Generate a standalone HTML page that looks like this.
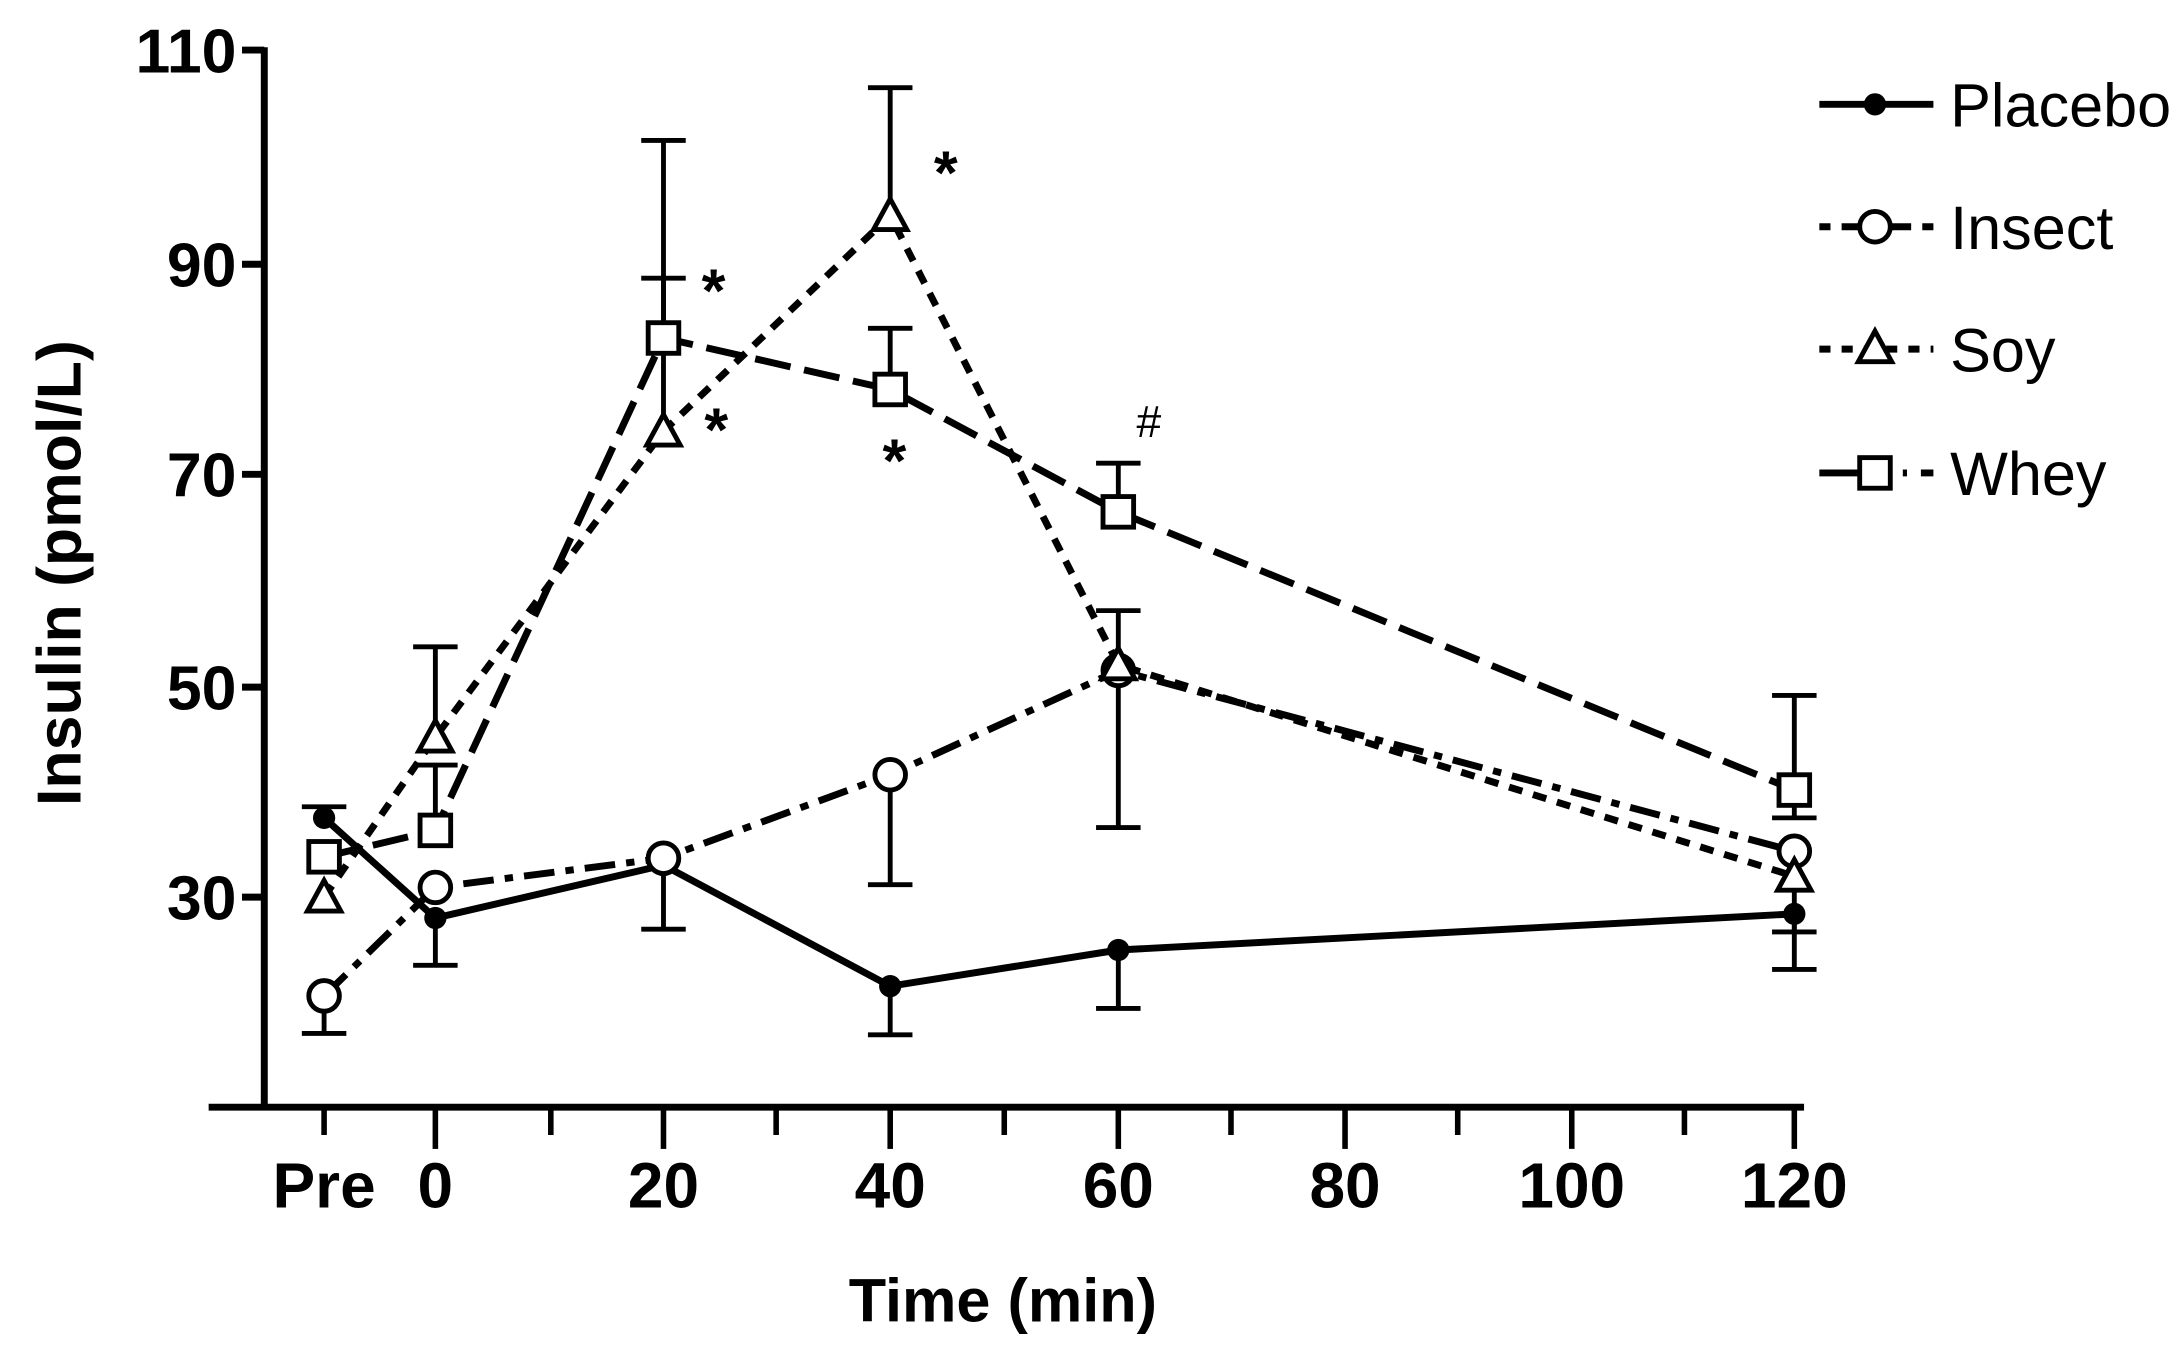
<!DOCTYPE html>
<html><head><meta charset="utf-8"><style>html,body{margin:0;padding:0;background:#fff}svg{display:block}</style></head>
<body>
<svg width="2181" height="1352" viewBox="0 0 1568 972" preserveAspectRatio="none" xmlns="http://www.w3.org/2000/svg" font-family="Liberation Sans, Arial, sans-serif">
<rect width="1568" height="972" fill="#fff"/>
<g stroke="#000" stroke-width="5" fill="none">
<line x1="190" y1="34" x2="190" y2="798"/>
<line x1="150" y1="796" x2="1297" y2="796"/>
<line x1="174" y1="36" x2="190" y2="36"/>
<line x1="174" y1="190" x2="190" y2="190"/>
<line x1="174" y1="341" x2="190" y2="341"/>
<line x1="174" y1="494" x2="190" y2="494"/>
<line x1="174" y1="645" x2="190" y2="645"/>
</g>
<g stroke="#000" stroke-width="4">
<line x1="233" y1="796" x2="233" y2="816"/>
<line x1="313" y1="796" x2="313" y2="826"/>
<line x1="396" y1="796" x2="396" y2="816"/>
<line x1="477" y1="796" x2="477" y2="826"/>
<line x1="558" y1="796" x2="558" y2="816"/>
<line x1="640" y1="796" x2="640" y2="826"/>
<line x1="722" y1="796" x2="722" y2="816"/>
<line x1="804" y1="796" x2="804" y2="826"/>
<line x1="885" y1="796" x2="885" y2="816"/>
<line x1="967" y1="796" x2="967" y2="826"/>
<line x1="1048" y1="796" x2="1048" y2="816"/>
<line x1="1130" y1="796" x2="1130" y2="826"/>
<line x1="1211" y1="796" x2="1211" y2="816"/>
<line x1="1290" y1="796" x2="1290" y2="826"/>
</g>
<g font-weight="bold" font-size="45" text-anchor="end">
<text x="170" y="52">110</text>
<text x="170" y="206">90</text>
<text x="170" y="357">70</text>
<text x="170" y="510">50</text>
<text x="170" y="661">30</text>
</g>
<g font-weight="bold" font-size="46" text-anchor="middle">
<text x="233" y="868">Pre</text>
<text x="313" y="868">0</text>
<text x="477" y="868">20</text>
<text x="640" y="868">40</text>
<text x="804" y="868">60</text>
<text x="967" y="868">80</text>
<text x="1130" y="868">100</text>
<text x="1290" y="868">120</text>
<text x="721" y="950" font-size="44">Time (min)</text>
</g>
<text transform="translate(58,412) rotate(-90)" font-weight="bold" font-size="45" text-anchor="middle">Insulin (pmol/L)</text>
<!-- error bars -->
<g stroke="#000" stroke-width="3.5">
<line x1="233" y1="588" x2="233" y2="580"/><line x1="217" y1="580" x2="249" y2="580"/>
<line x1="313" y1="660" x2="313" y2="694"/><line x1="297" y1="694" x2="329" y2="694"/>
<line x1="477" y1="622" x2="477" y2="668"/><line x1="461" y1="668" x2="493" y2="668"/>
<line x1="640" y1="709" x2="640" y2="744"/><line x1="624" y1="744" x2="656" y2="744"/>
<line x1="804" y1="683" x2="804" y2="725"/><line x1="788" y1="725" x2="820" y2="725"/>
<line x1="1290" y1="657" x2="1290" y2="697"/><line x1="1274" y1="697" x2="1306" y2="697"/>
<line x1="233" y1="716" x2="233" y2="743"/><line x1="217" y1="743" x2="249" y2="743"/>
<line x1="640" y1="557" x2="640" y2="636"/><line x1="624" y1="636" x2="656" y2="636"/>
<line x1="804" y1="482" x2="804" y2="595"/><line x1="788" y1="595" x2="820" y2="595"/>
<line x1="313" y1="530" x2="313" y2="465"/><line x1="297" y1="465" x2="329" y2="465"/>
<line x1="477" y1="310" x2="477" y2="101"/><line x1="461" y1="101" x2="493" y2="101"/>
<line x1="640" y1="155" x2="640" y2="63"/><line x1="624" y1="63" x2="656" y2="63"/>
<line x1="804" y1="478" x2="804" y2="439"/><line x1="788" y1="439" x2="820" y2="439"/>
<line x1="313" y1="597" x2="313" y2="550"/><line x1="297" y1="550" x2="329" y2="550"/>
<line x1="477" y1="243" x2="477" y2="200"/><line x1="461" y1="200" x2="493" y2="200"/>
<line x1="640" y1="280" x2="640" y2="236"/><line x1="624" y1="236" x2="656" y2="236"/>
<line x1="804" y1="368" x2="804" y2="333"/><line x1="788" y1="333" x2="820" y2="333"/>
<line x1="1290" y1="568" x2="1290" y2="500"/><line x1="1274" y1="500" x2="1306" y2="500"/>
<line x1="1290" y1="568" x2="1290" y2="588"/><line x1="1274" y1="588" x2="1306" y2="588"/>
<line x1="1290" y1="612" x2="1290" y2="670"/><line x1="1274" y1="670" x2="1306" y2="670"/>
</g>
<!-- lines -->
<g fill="none" stroke="#000" stroke-width="5">
<polyline points="233,588 313,660 477,622 640,709 804,683 1290,657"/>
<polyline points="233,716 313,638 477,617 640,557 804,482 1290,612" stroke-dasharray="22,8,6,8"/>
<polyline points="233,645 313,530 477,310 640,155 804,478 1290,630" stroke-dasharray="10,8"/>
<polyline points="233,616 313,597 477,243 640,280 804,368 1290,568" stroke-dasharray="26,10"/>
</g>
<!-- markers -->
<g fill="#000">
<circle cx="233" cy="588" r="8"/><circle cx="313" cy="660" r="8"/><circle cx="477" cy="622" r="8"/>
<circle cx="640" cy="709" r="8"/><circle cx="804" cy="683" r="8"/><circle cx="1290" cy="657" r="8"/>
</g>
<g fill="#fff" stroke="#000" stroke-width="3.5">
<circle cx="233" cy="716" r="11"/><circle cx="313" cy="638" r="11"/><circle cx="477" cy="617" r="11"/>
<circle cx="640" cy="557" r="11"/><circle cx="804" cy="482" r="11"/><circle cx="1290" cy="612" r="11"/>
<path d="M233,633 l-12,22 h24z M313,518 l-12,22 h24z M477,298 l-12,22 h24z M640,143 l-12,22 h24z M804,466 l-12,22 h24z M1290,618 l-12,22 h24z"/>
<rect x="222" y="605" width="22" height="22"/><rect x="302" y="586" width="22" height="22"/>
<rect x="466" y="232" width="22" height="22"/><rect x="629" y="269" width="22" height="22"/>
<rect x="793" y="357" width="22" height="22"/><rect x="1279" y="557" width="22" height="22"/>
</g>
<g font-size="44" text-anchor="middle" font-weight="bold">
<text x="513" y="224">*</text><text x="515" y="324">*</text><text x="680" y="139">*</text>
<text x="643" y="346">*</text><text x="826" y="314" font-size="32" font-weight="normal">#</text>
</g>
<!-- legend -->
<g stroke="#000" stroke-width="5" fill="none">
<line x1="1308" y1="75" x2="1390" y2="75"/>
<line x1="1308" y1="163" x2="1390" y2="163" stroke-dasharray="8,8,14,14,22,8"/>
<line x1="1308" y1="251" x2="1390" y2="251" stroke-dasharray="8,8"/>
<line x1="1308" y1="340" x2="1390" y2="340" stroke-dasharray="50,10,3,10"/>
</g>
<circle cx="1348" cy="75" r="8"/>
<g fill="#fff" stroke="#000" stroke-width="3.5">
<circle cx="1348" cy="163" r="11"/>
<path d="M1348,238 l-12,22 h24z"/>
<rect x="1337" y="329" width="22" height="22"/>
</g>
<g font-size="44">
<text x="1402" y="91">Placebo</text>
<text x="1402" y="179">Insect</text>
<text x="1402" y="267">Soy</text>
<text x="1402" y="356">Whey</text>
</g>
</svg>
</body></html>
